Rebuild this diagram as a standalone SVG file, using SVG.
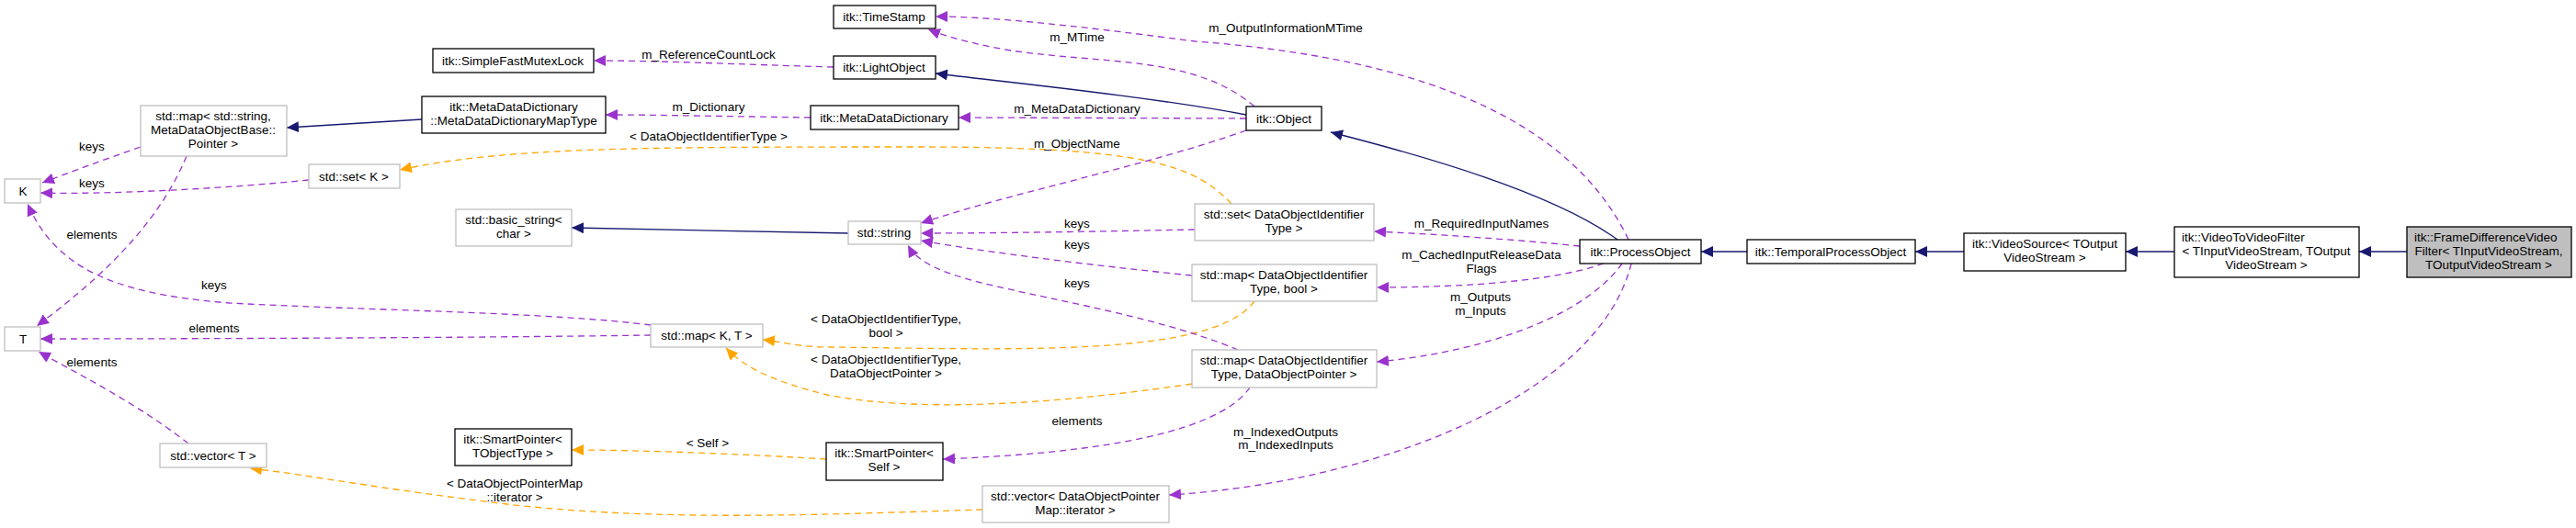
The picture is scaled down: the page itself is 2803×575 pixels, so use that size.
<svg xmlns="http://www.w3.org/2000/svg" width="2803" height="575" viewBox="0 0 2803 575">
<style>
text{font-family:"Liberation Sans",Arial,sans-serif;font-size:13.5px;fill:#000;text-anchor:middle}
.n rect{fill:#fff;stroke:#000;stroke-width:1.3}
.g rect{fill:#fff;stroke:#bfbfbf;stroke-width:1.3}
.p{fill:none;stroke:#9a32cd;stroke-width:1.3;stroke-dasharray:7,5;marker-end:url(#ap)}
.o{fill:none;stroke:#ffa500;stroke-width:1.3;stroke-dasharray:7,5;marker-end:url(#ao)}
.b{fill:none;stroke:#191970;stroke-width:1.3;marker-end:url(#ab)}
</style>
<defs>
<marker id="ap" markerUnits="userSpaceOnUse" markerWidth="14" markerHeight="12" refX="13" refY="6" orient="auto"><path d="M0,0L13,6L0,12z" fill="#9a32cd"/></marker>
<marker id="ao" markerUnits="userSpaceOnUse" markerWidth="14" markerHeight="12" refX="13" refY="6" orient="auto"><path d="M0,0L13,6L0,12z" fill="#ffa500"/></marker>
<marker id="ab" markerUnits="userSpaceOnUse" markerWidth="14" markerHeight="12" refX="13" refY="6" orient="auto"><path d="M0,0L13,6L0,12z" fill="#191970"/></marker>
</defs>
<rect width="2803" height="575" fill="#fff"/>
<g id="edges">
<path class="p" d="M907,73 C800,70 720,66 646,66"/>
<path class="p" d="M882,128 C800,127 720,125 659,125"/>
<path class="b" d="M459,130 L312,139"/>
<path class="p" d="M153,160 C110,175 75,188 46,199"/>
<path class="p" d="M336,196 C250,205 120,212 44,210"/>
<path class="p" d="M203,170 C170,250 100,310 40,355"/>
<path class="p" d="M708,354 C600,340 400,338 250,330 C120,320 60,290 30,222"/>
<path class="p" d="M708,365 C500,368 200,369 44,369"/>
<path class="p" d="M205,483 C150,440 90,410 42,383"/>
<path class="o" d="M1340,222 C1300,180 1250,160 1000,160 C700,160 550,160 435,185"/>
<path class="o" d="M1365,328 C1320,390 1100,380 900,378 C870,378 850,372 830,370"/>
<path class="o" d="M1297,418 C1150,440 1000,450 900,430 C840,415 810,400 790,379"/>
<path class="o" d="M899,500 C820,495 700,490 622,490"/>
<path class="o" d="M1069,555 C900,560 700,570 520,545 C400,530 320,515 272,510"/>
<path class="b" d="M1356,125 C1250,105 1100,90 1018,80"/>
<path class="p" d="M1365,116 C1300,60 1200,70 1100,55 C1060,48 1030,40 1010,32"/>
<path class="p" d="M1356,129 L1043,128"/>
<path class="p" d="M1356,142 C1250,180 1100,210 1002,243"/>
<path class="b" d="M1760,261 C1690,210 1550,170 1448,144"/>
<path class="p" d="M1772,261 C1700,110 1500,60 1300,45 C1150,25 1070,18 1018,18"/>
<path class="p" d="M1719,268 C1640,260 1560,255 1495,252"/>
<path class="p" d="M1745,287 C1680,310 1560,313 1498,313"/>
<path class="p" d="M1765,287 C1720,350 1600,385 1498,394"/>
<path class="p" d="M1775,287 C1740,430 1500,525 1272,539"/>
<path class="p" d="M1300,250 C1150,253 1060,254 1002,254"/>
<path class="p" d="M1297,300 C1150,285 1060,272 1002,262"/>
<path class="p" d="M1347,381 C1250,340 1100,320 1040,300 C1010,290 995,280 988,267"/>
<path class="p" d="M1360,422 C1320,480 1150,495 1026,500"/>
<path class="b" d="M923,254 L622,248"/>
<path class="b" d="M1901,274 L1851,274"/>
<path class="b" d="M2137,274 L2084,274"/>
<path class="b" d="M2366,274 L2313,274"/>
<path class="b" d="M2619,274 L2567,274"/>
</g>
<g id="labels">
<text x="771" y="64">m_ReferenceCountLock</text>
<text x="771" y="121">m_Dictionary</text>
<text x="771" y="153">&lt; DataObjectIdentifierType &gt;</text>
<text x="100" y="164">keys</text>
<text x="100" y="204">keys</text>
<text x="100" y="260">elements</text>
<text x="233" y="315">keys</text>
<text x="233" y="362">elements</text>
<text x="100" y="399">elements</text>
<text x="770" y="487">&lt; Self &gt;</text>
<text x="560" y="531">&lt; DataObjectPointerMap</text>
<text x="560" y="546">::iterator &gt;</text>
<text x="1399" y="35">m_OutputInformationMTime</text>
<text x="1172" y="45">m_MTime</text>
<text x="1172" y="123">m_MetaDataDictionary</text>
<text x="1172" y="161">m_ObjectName</text>
<text x="1172" y="248">keys</text>
<text x="1172" y="271">keys</text>
<text x="1612" y="248">m_RequiredInputNames</text>
<text x="1612" y="282">m_CachedInputReleaseData</text>
<text x="1612" y="297">Flags</text>
<text x="1611" y="328">m_Outputs</text>
<text x="1611" y="343">m_Inputs</text>
<text x="1172" y="313">keys</text>
<text x="964" y="352">&lt; DataObjectIdentifierType,</text>
<text x="964" y="367">bool &gt;</text>
<text x="964" y="396">&lt; DataObjectIdentifierType,</text>
<text x="964" y="411">DataObjectPointer &gt;</text>
<text x="1172" y="463">elements</text>
<text x="1399" y="475">m_IndexedOutputs</text>
<text x="1399" y="489">m_IndexedInputs</text>
</g>
<g id="TimeStamp" class="n"><rect x="907" y="6" width="111" height="25"/><text x="962" y="23">itk::TimeStamp</text></g>
<g id="LightObject" class="n"><rect x="907" y="61" width="111" height="25"/><text x="962" y="78">itk::LightObject</text></g>
<g id="SimpleFastMutexLock" class="n"><rect x="471" y="53" width="175" height="26"/><text x="558" y="71">itk::SimpleFastMutexLock</text></g>
<g id="MetaDataDictionaryMapType" class="n"><rect x="459" y="105" width="200" height="40"/><text x="559" y="121">itk::MetaDataDictionary</text><text x="559" y="136">::MetaDataDictionaryMapType</text></g>
<g id="MetaDataDictionary" class="n"><rect x="882" y="115" width="161" height="26"/><text x="962" y="133">itk::MetaDataDictionary</text></g>
<g id="Object" class="n"><rect x="1356" y="116" width="82" height="26"/><text x="1397" y="134">itk::Object</text></g>
<g id="MapStringPointer" class="g"><rect x="153" y="115" width="159" height="55"/><text x="232" y="131">std::map&lt; std::string,</text><text x="232" y="146">MetaDataObjectBase::</text><text x="232" y="161">Pointer &gt;</text></g>
<g id="K" class="g"><rect x="5" y="195" width="39" height="26"/><text x="25" y="213">K</text></g>
<g id="SetK" class="g"><rect x="336" y="179" width="99" height="26"/><text x="385" y="197">std::set&lt; K &gt;</text></g>
<g id="BasicString" class="g"><rect x="496" y="228" width="126" height="40"/><text x="559" y="244">std::basic_string&lt;</text><text x="559" y="259">char &gt;</text></g>
<g id="String" class="g"><rect x="923" y="241" width="79" height="25"/><text x="962" y="258">std::string</text></g>
<g id="SetDOIT" class="g"><rect x="1300" y="222" width="195" height="40"/><text x="1397" y="238">std::set&lt; DataObjectIdentifier</text><text x="1397" y="253">Type &gt;</text></g>
<g id="MapDOITBool" class="g"><rect x="1297" y="288" width="201" height="40"/><text x="1397" y="304">std::map&lt; DataObjectIdentifier</text><text x="1397" y="319">Type, bool &gt;</text></g>
<g id="MapDOITDOP" class="g"><rect x="1297" y="381" width="201" height="41"/><text x="1397" y="397">std::map&lt; DataObjectIdentifier</text><text x="1397" y="412">Type, DataObjectPointer &gt;</text></g>
<g id="T" class="g"><rect x="5" y="356" width="39" height="26"/><text x="25" y="374">T</text></g>
<g id="MapKT" class="g"><rect x="708" y="353" width="122" height="25"/><text x="769" y="370">std::map&lt; K, T &gt;</text></g>
<g id="VectorT" class="g"><rect x="174" y="483" width="116" height="26"/><text x="232" y="501">std::vector&lt; T &gt;</text></g>
<g id="SmartPointerT" class="n"><rect x="495" y="467" width="127" height="40"/><text x="558" y="483">itk::SmartPointer&lt;</text><text x="558" y="498">TObjectType &gt;</text></g>
<g id="SmartPointerSelf" class="n"><rect x="899" y="482" width="127" height="41"/><text x="962" y="498">itk::SmartPointer&lt;</text><text x="962" y="513">Self &gt;</text></g>
<g id="VectorIter" class="g"><rect x="1069" y="529" width="203" height="40"/><text x="1170" y="545">std::vector&lt; DataObjectPointer</text><text x="1170" y="560">Map::iterator &gt;</text></g>
<g id="ProcessObject" class="n"><rect x="1719" y="261" width="132" height="26"/><text x="1785" y="279">itk::ProcessObject</text></g>
<g id="TemporalProcessObject" class="n"><rect x="1901" y="261" width="183" height="26"/><text x="1992" y="279">itk::TemporalProcessObject</text></g>
<g id="VideoSource" class="n"><rect x="2137" y="254" width="176" height="41"/><text x="2225" y="270">itk::VideoSource&lt; TOutput</text><text x="2225" y="285">VideoStream &gt;</text></g>
<g id="VideoToVideoFilter" class="n"><rect x="2366" y="247" width="201" height="55"/><text x="2374" y="263" style="text-anchor:start">itk::VideoToVideoFilter</text><text x="2466" y="278">&lt; TInputVideoStream, TOutput</text><text x="2466" y="293">VideoStream &gt;</text></g>
<g id="FrameDifferenceVideoFilter" class="n"><rect x="2619" y="247" width="179" height="55" style="fill:#bfbfbf"/><text x="2627" y="263" style="text-anchor:start">itk::FrameDifferenceVideo</text><text x="2708" y="278">Filter&lt; TInputVideoStream,</text><text x="2708" y="293">TOutputVideoStream &gt;</text></g>
</svg>
